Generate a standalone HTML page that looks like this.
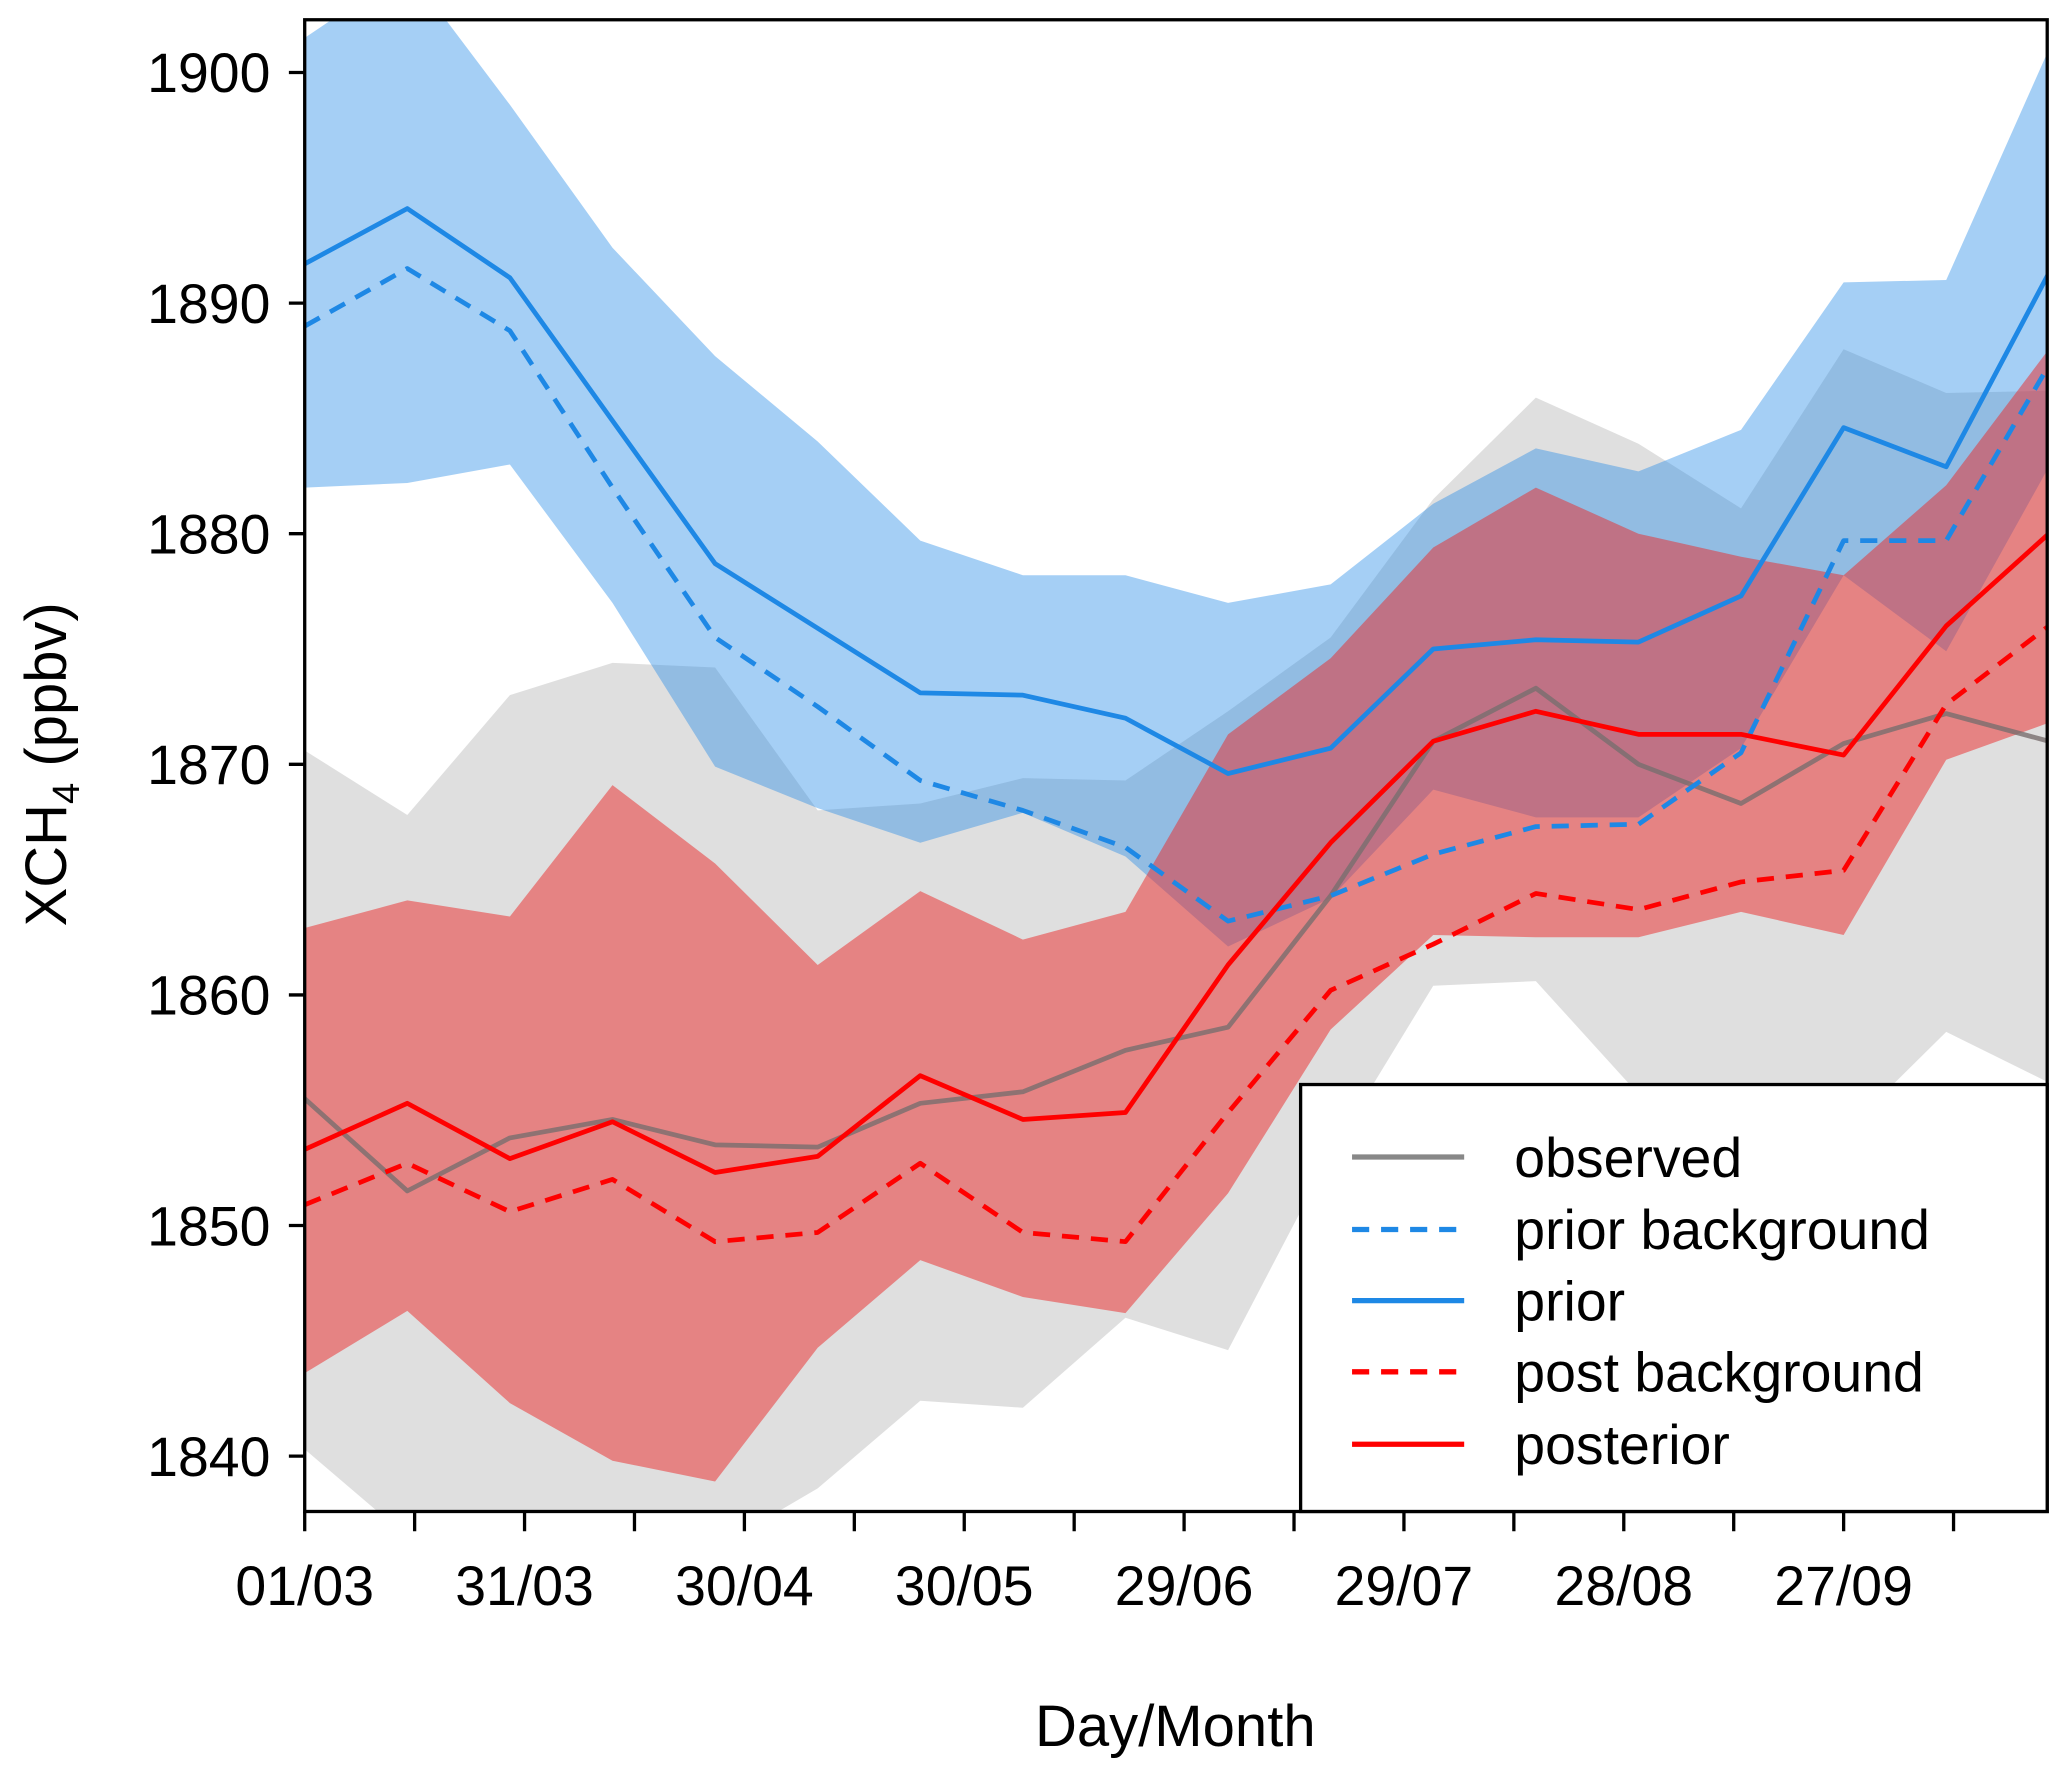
<!DOCTYPE html>
<html><head><meta charset="utf-8"><style>
html,body{margin:0;padding:0;background:#fff}
svg{display:block}
text{font-family:"Liberation Sans",Arial,sans-serif;fill:#000}
</style></head><body>
<svg id="chart" width="2067" height="1779" viewBox="0 0 1567 1350" preserveAspectRatio="none" xmlns="http://www.w3.org/2000/svg">
<defs><clipPath id="pc"><rect x="231" y="15" width="1321" height="1132"/></clipPath></defs>
<g id="plot" clip-path="url(#pc)"></g>
<rect x="231" y="15" width="1321" height="1132" fill="none" stroke="#000" stroke-width="2.5"/>
<g id="axes"></g>
<text x="891" y="1325" font-size="44" text-anchor="middle">Day/Month</text>
<text transform="translate(50,580) rotate(-90)" font-size="44" text-anchor="middle">XCH<tspan font-size="29" dy="10">4</tspan><tspan dy="-10"> (ppbv)</tspan></text>
<g>
<rect x="986" y="823" width="566" height="324" fill="#fff" stroke="#000" stroke-width="2.5"/>
<g><line x1="1025" y1="878" x2="1110" y2="878" stroke="#888" stroke-width="4"/><text x="1148" y="893" font-size="42">observed</text></g>
<g><line x1="1025" y1="933" x2="1110" y2="933" stroke="#1e88e5" stroke-width="4" stroke-dasharray="13,9"/><text x="1148" y="948" font-size="42">prior background</text></g>
<g><line x1="1025" y1="987" x2="1110" y2="987" stroke="#1e88e5" stroke-width="4"/><text x="1148" y="1002" font-size="42">prior</text></g>
<g><line x1="1025" y1="1041" x2="1110" y2="1041" stroke="#ff0000" stroke-width="4" stroke-dasharray="13,9"/><text x="1148" y="1056" font-size="42">post background</text></g>
<g><line x1="1025" y1="1096" x2="1110" y2="1096" stroke="#ff0000" stroke-width="4"/><text x="1148" y="1111" font-size="42">posterior</text></g>
</g>
</svg>
<script>
const days = [0,14,28,42,56,70,84,98,112,126,140,154,168,182,196,210,224,238];
const priorBandHi = [1901.5,1904.5,1898.6,1892.4,1887.7,1884.0,1879.7,1878.2,1878.2,1877.0,1877.8,1881.3,1883.7,1882.7,1884.5,1890.9,1891.0,1901.0];
const priorBandLo = [1882.0,1882.2,1883.0,1877.0,1869.9,1868.1,1866.6,1867.9,1866.0,1862.1,1864.2,1868.9,1867.7,1867.7,1870.7,1878.2,1874.9,1882.9];
const obsBandHi = [1870.6,1867.8,1873.0,1874.4,1874.2,1868.0,1868.3,1869.4,1869.3,1872.3,1875.5,1881.5,1885.9,1883.9,1881.1,1888.0,1886.1,1886.2];
const obsBandLo = [1840.3,1836.5,1836.0,1836.5,1836.0,1838.6,1842.4,1842.1,1846.0,1844.6,1853.1,1860.4,1860.6,1855.7,1855.4,1854.0,1858.4,1856.2];
const postBandHi = [1862.9,1864.1,1863.4,1869.1,1865.7,1861.3,1864.5,1862.4,1863.6,1871.3,1874.6,1879.4,1882.0,1880.0,1879.0,1878.2,1882.1,1888.0];
const postBandLo = [1843.6,1846.3,1842.3,1839.8,1838.9,1844.7,1848.5,1846.9,1846.2,1851.4,1858.5,1862.6,1862.5,1862.5,1863.6,1862.6,1870.2,1871.8];
const observed = [1855.5,1851.5,1853.8,1854.6,1853.5,1853.4,1855.3,1855.8,1857.6,1858.6,1864.3,1871.0,1873.3,1870.0,1868.3,1870.9,1872.2,1871.0];
const priorBg = [1889.0,1891.5,1888.8,1882.0,1875.5,1872.5,1869.3,1868.0,1866.4,1863.2,1864.3,1866.1,1867.3,1867.4,1870.5,1879.7,1879.7,1887.3];
const prior = [1891.7,1894.1,1891.1,1884.9,1878.7,1875.9,1873.1,1873.0,1872.0,1869.6,1870.7,1875.0,1875.4,1875.3,1877.3,1884.6,1882.9,1891.3];
const postBg = [1850.9,1852.7,1850.6,1852.0,1849.3,1849.7,1852.7,1849.7,1849.3,1854.9,1860.2,1862.2,1864.4,1863.7,1864.9,1865.4,1872.6,1876.0];
const posterior = [1853.3,1855.3,1852.9,1854.5,1852.3,1853.0,1856.5,1854.6,1854.9,1861.3,1866.6,1871.0,1872.3,1871.3,1871.3,1870.4,1876.0,1880.0];
const yTicks = [1840,1850,1860,1870,1880,1890,1900];
const xTickDays = [0,15,30,45,60,75,90,105,120,135,150,165,180,195,210,225];
const xLabels = ["01/03","31/03","30/04","30/05","29/06","29/07","28/08","27/09"];

const NS="http://www.w3.org/2000/svg";
const X = d => 231 + d*(83.333/15);
const Y = v => 55 + (1900 - v)*17.5;
const plot = document.getElementById('plot');
const axes = document.getElementById('axes');
function mk(tag, attrs, parent){const e=document.createElementNS(NS,tag);for(const k in attrs)e.setAttribute(k,attrs[k]);parent.appendChild(e);return e;}
function band(hi, lo, fill, name){
  const pts = days.map((d,i)=>X(d)+','+Y(hi[i])).concat(days.map((d,i)=>X(d)+','+Y(lo[i])).reverse());
  const p = mk('polygon',{points:pts.join(' '),fill:fill},plot);
  
  
}
function line(vals, stroke, dash, name){
  const pts = days.map((d,i)=>X(d)+','+Y(vals[i])).join(' ');
  const a={points:pts,fill:'none',stroke:stroke,'stroke-width':3.6,'stroke-linejoin':'round'};
  if(dash) a['stroke-dasharray']=dash;
  const p = mk('polyline',a,plot);
  
  
}
band(obsBandHi, obsBandLo, 'rgba(192,192,192,0.5)', 'observed-uncertainty-band');
band(priorBandHi, priorBandLo, 'rgba(30,136,229,0.4)', 'prior-uncertainty-band');
band(postBandHi, postBandLo, 'rgba(235,40,40,0.5)', 'posterior-uncertainty-band');
line(observed, 'rgba(120,110,110,0.8)', null, 'observed-line');
line(priorBg, '#1e88e5', '13,9', 'prior-background-line');
line(prior, '#1e88e5', null, 'prior-line');
line(postBg, '#ff0000', '13,9', 'post-background-line');
line(posterior, '#ff0000', null, 'posterior-line');

yTicks.forEach(v=>{
  const t = mk('line',{x1:219,x2:231,y1:Y(v),y2:Y(v),stroke:'#000','stroke-width':2.5},axes);
  
  
  const l = mk('text',{x:205,y:Y(v)+15,'font-size':42,'text-anchor':'end'},axes);
  l.textContent = v;
  
  
});
xTickDays.forEach((d,i)=>{
  const t = mk('line',{x1:X(d),x2:X(d),y1:1147,y2:1162,stroke:'#000','stroke-width':2.5},axes);
  
  
  if(i%2===0){
    const l = mk('text',{x:X(d),y:1218,'font-size':42,'text-anchor':'middle'},axes);
    l.textContent = xLabels[i/2];
    
    
  }
});
</script>
</body></html>
